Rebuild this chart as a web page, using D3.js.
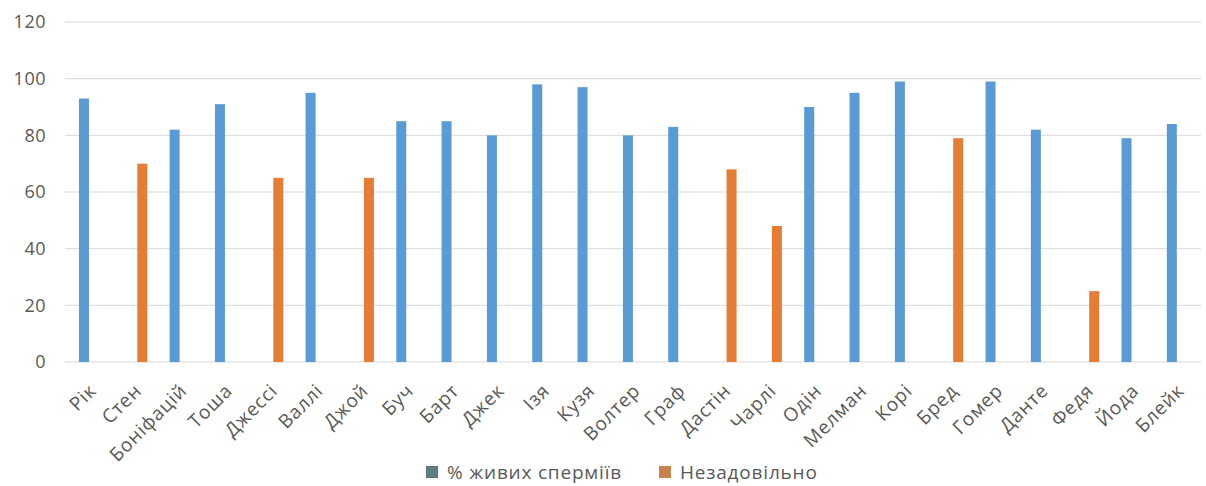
<!DOCTYPE html>
<html>
<head>
<meta charset="utf-8">
<script src="https://cdn.jsdelivr.net/npm/d3@7"></script>
<style>
  html, body { margin: 0; padding: 0; background: #ffffff; }
  svg { display: block; }
  text { font-family: "Open Sans", "Noto Sans", sans-serif; fill: #595959; }
</style>
</head>
<body>
<svg id="chart" width="1206" height="486"></svg>
<script>
// Dog names along the category axis
const categories = ["Рік", "Стен", "Боніфацій", "Тоша", "Джессі", "Валлі", "Джой", "Буч", "Барт", "Джек",
  "Ізя", "Кузя", "Волтер", "Граф", "Дастін", "Чарлі", "Одін", "Мелман", "Корі", "Бред",
  "Гомер", "Данте", "Федя", "Йода", "Блейк"];

// Series names (legend)
const seriesNames = ["% живих сперміїв", "Незадовільно"];

// Percentage of live sperm (acceptable samples)
const liveValues = [93, null, 82, 91, null, 95, null, 85, 85, 80,
  98, 97, 80, 83, null, null, 90, 95, 99, null,
  99, 82, null, 79, 84];

// Unsatisfactory samples
const badValues = [null, 70, null, null, 65, null, 65, null, null, null,
  null, null, null, null, 68, 48, null, null, null, 79,
  null, null, 25, null, null];

// Value-axis ticks
const yTicks = [0, 20, 40, 60, 80, 100, 120];

const colors = ["#5B9BD5", "#E57D35"];
const legendColors = ["#5E7A82", "#C8824C"];

const svg = d3.select("#chart");
const plot = { left: 67.8, right: 1201, top: 22, bottom: 362 };

const x = d3.scaleBand()
  .domain(categories)
  .range([plot.left, plot.right])
  .padding(0);

const bw = x.bandwidth();
const x1 = d3.scaleBand()
  .domain(seriesNames)
  .range([bw / 2 - 11.5, bw / 2 + 11.5])
  .paddingInner(3 / 13)
  .paddingOuter(0);

const y = d3.scaleLinear()
  .domain([0, 120])
  .range([plot.bottom, plot.top]);

// Horizontal gridlines
svg.append("g")
  .selectAll("line")
  .data(yTicks)
  .join("line")
  .attr("x1", 65)
  .attr("x2", plot.right)
  .attr("y1", d => y(d))
  .attr("y2", d => y(d))
  .attr("stroke", "#D9D9D9")
  .attr("stroke-width", 1);

// Value axis labels
const yAxis = d3.axisLeft(y).tickValues(yTicks).tickSize(0).tickPadding(0);
const yg = svg.append("g")
  .attr("transform", "translate(46,0)")
  .call(yAxis);
yg.select(".domain").remove();
yg.selectAll("text")
  .attr("font-size", 18)
  .attr("letter-spacing", 0.5)
  .attr("fill", "#555555")
  .style("font-family", "'Open Sans', sans-serif");

// Bars for both series
const seriesData = [liveValues, badValues];
seriesData.forEach((vals, si) => {
  const rows = categories.map((c, i) => ({ c, v: vals[i] })).filter(d => d.v != null);
  svg.append("g")
    .selectAll("rect")
    .data(rows)
    .join("rect")
    .attr("x", d => x(d.c) + x1(seriesNames[si]))
    .attr("width", x1.bandwidth())
    .attr("y", d => y(d.v))
    .attr("height", d => y(0) - y(d.v))
    .attr("fill", colors[si]);
});

// Category labels, rotated
const xAxis = d3.axisBottom(x).tickSize(0).tickPadding(0);
const xg = svg.append("g")
  .attr("transform", `translate(0,${plot.bottom})`)
  .call(xAxis);
xg.select(".domain").remove();
xg.selectAll("text")
  .attr("font-size", 19)
  .attr("letter-spacing", 0.8)
  .attr("fill", "#555555")
  .attr("text-anchor", "end")
  .attr("dy", "0")
  .attr("y", 0)
  .attr("transform", "translate(7,30) rotate(-45)")
  .style("font-family", "'Open Sans', sans-serif");

// Legend
const legendItems = [
  { name: seriesNames[0], x: 426 },
  { name: seriesNames[1], x: 659 }
];
const lg = svg.append("g");
legendItems.forEach((d, i) => {
  lg.append("rect")
    .attr("x", d.x)
    .attr("y", 466)
    .attr("width", 12)
    .attr("height", 12)
    .attr("fill", legendColors[i]);
  lg.append("text")
    .attr("x", d.x + 21)
    .attr("y", 479)
    .attr("font-size", 19)
    .attr("letter-spacing", 0.8)
    .attr("fill", "#555555")
    .text(d.name);
});
</script>
</body>
</html>
